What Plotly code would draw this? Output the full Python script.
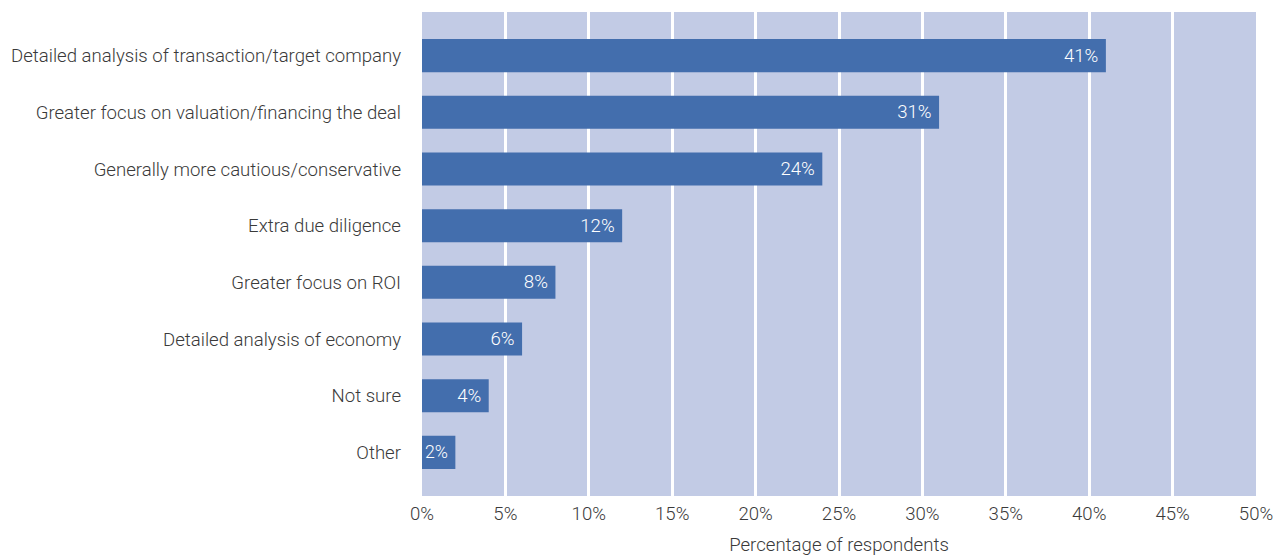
import plotly.graph_objects as go

# Survey responses, listed top to bottom
categories = [
    "Detailed analysis of transaction/target company",
    "Greater focus on valuation/financing the deal",
    "Generally more cautious/conservative",
    "Extra due diligence",
    "Greater focus on ROI",
    "Detailed analysis of economy",
    "Not sure",
    "Other",
]
values = [41, 31, 24, 12, 8, 6, 4, 2]
x_ticks = [0, 5, 10, 15, 20, 25, 30, 35, 40, 45, 50]
x_tick_labels = [f"{t}%" for t in x_ticks]

BAR = "#436EAD"
PLOT_BG = "#C2CBE5"
TEXT = "#3a3a3a"
FONT = "Roboto"
SIZE = 18.6

fig = go.Figure(
    go.Bar(
        y=categories,
        x=values,
        orientation="h",
        marker=dict(color=BAR, line=dict(width=0)),
        # trailing non-breaking space keeps the value label off the bar end
        text=[f"{v}%\u00a0" for v in values],
        textposition="inside",
        insidetextanchor="end",
        textfont=dict(color="white", size=SIZE, family=FONT, weight=300),
        cliponaxis=False,
    )
)

fig.update_layout(
    width=1283,
    height=556,
    margin=dict(l=422, r=27, t=12, b=60),
    paper_bgcolor="white",
    plot_bgcolor=PLOT_BG,
    bargap=0.417,
    showlegend=False,
    font=dict(family=FONT, color=TEXT, size=SIZE, weight=300),
    xaxis=dict(
        range=[0, 50],
        tickvals=x_ticks,
        ticktext=x_tick_labels,
        showgrid=True,
        gridcolor="white",
        gridwidth=2.5,
        zeroline=False,
        showline=False,
        ticks="",
        ticklabelstandoff=4,
        automargin=False,
        tickfont=dict(size=SIZE, color=TEXT, family=FONT, weight=300),
        title=dict(
            text="Percentage of respondents",
            font=dict(size=SIZE, color=TEXT, family=FONT, weight=300),
            standoff=23,
        ),
        fixedrange=True,
    ),
    yaxis=dict(
        categoryorder="array",
        categoryarray=categories,
        autorange=False,
        range=[7.77, -0.77],
        showgrid=False,
        zeroline=False,
        showline=False,
        ticks="",
        ticklabelstandoff=20,
        automargin=False,
        tickfont=dict(size=SIZE, color=TEXT, family=FONT, weight=300),
        fixedrange=True,
    ),
)

fig.write_html("out.html", config={"displayModeBar": False})
